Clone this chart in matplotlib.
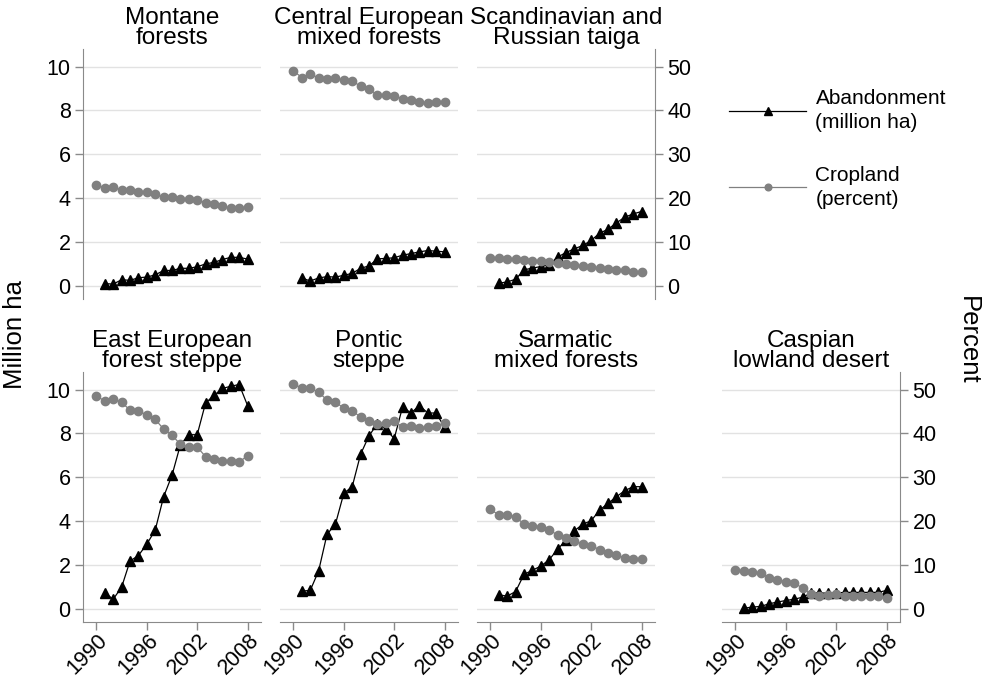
import matplotlib
matplotlib.use('Agg')
import matplotlib.pyplot as plt
from matplotlib.transforms import ScaledTranslation

plt.rcParams['font.family'] = ['Liberation Sans', 'DejaVu Sans']

years_cropland = [1990, 1991, 1992, 1993, 1994, 1995, 1996, 1997, 1998, 1999,
                  2000, 2001, 2002, 2003, 2004, 2005, 2006, 2007, 2008]
years_abandon = [1991, 1992, 1993, 1994, 1995, 1996, 1997, 1998, 1999,
                 2000, 2001, 2002, 2003, 2004, 2005, 2006, 2007, 2008]
x_ticks = [1990, 1996, 2002, 2008]
left_ticks = [0, 2, 4, 6, 8, 10]
right_ticks = [0, 10, 20, 30, 40, 50]

titles = ["Montane\nforests", "Central European\nmixed forests", "Scandinavian and\nRussian taiga",
          "East European\nforest steppe", "Pontic\nsteppe", "Sarmatic\nmixed forests",
          "Caspian\nlowland desert"]

# Abandonment (million ha)
abandon_montane = [0.10, 0.08, 0.28, 0.25, 0.37, 0.40, 0.50, 0.70, 0.70, 0.80, 0.80, 0.87, 1.00, 1.07, 1.20, 1.30, 1.30, 1.22]
abandon_central = [0.36, 0.22, 0.36, 0.42, 0.40, 0.48, 0.57, 0.80, 0.91, 1.23, 1.25, 1.28, 1.40, 1.47, 1.55, 1.61, 1.58, 1.55]
abandon_taiga = [0.12, 0.18, 0.30, 0.73, 0.81, 0.88, 0.96, 1.31, 1.52, 1.69, 1.84, 2.07, 2.40, 2.58, 2.87, 3.13, 3.28, 3.39]
abandon_east = [0.72, 0.44, 0.99, 2.18, 2.43, 2.95, 3.59, 5.11, 6.09, 7.48, 7.94, 7.94, 9.39, 9.73, 10.05, 10.15, 10.23, 9.27]
abandon_pontic = [0.81, 0.84, 1.73, 3.40, 3.86, 5.27, 5.57, 7.05, 7.89, 8.44, 8.20, 7.76, 9.21, 8.93, 9.27, 8.93, 8.93, 8.27]
abandon_sarmatic = [0.64, 0.58, 0.79, 1.57, 1.76, 1.95, 2.24, 2.72, 3.13, 3.56, 3.86, 4.02, 4.50, 4.81, 5.11, 5.39, 5.57, 5.57]
abandon_caspian = [0.03, 0.08, 0.11, 0.23, 0.31, 0.38, 0.44, 0.53, 0.72, 0.72, 0.72, 0.72, 0.75, 0.75, 0.75, 0.75, 0.75, 0.84]

# Cropland (percent)
crop_montane = [23.0, 22.4, 22.6, 21.8, 21.9, 21.5, 21.4, 20.9, 20.2, 20.2, 19.9, 19.7, 19.5, 19.0, 18.7, 18.1, 17.7, 17.7, 17.9]
crop_central = [49.0, 47.5, 48.3, 47.4, 47.1, 47.3, 46.9, 46.6, 45.6, 44.9, 43.5, 43.4, 43.3, 42.7, 42.3, 42.0, 41.7, 41.9, 42.0]
crop_taiga = [6.3, 6.3, 6.2, 6.1, 5.8, 5.7, 5.6, 5.4, 5.2, 5.0, 4.7, 4.5, 4.2, 4.0, 3.9, 3.6, 3.5, 3.2, 3.1]
crop_east = [48.5, 47.4, 47.8, 47.1, 45.3, 45.0, 44.3, 43.2, 41.0, 39.6, 37.5, 36.9, 36.9, 34.7, 34.2, 33.8, 33.8, 33.5, 34.9]
crop_pontic = [51.2, 50.4, 50.3, 49.4, 47.6, 47.1, 45.8, 45.2, 43.7, 42.8, 42.2, 42.4, 42.9, 41.4, 41.6, 41.2, 41.5, 41.6, 42.4]
crop_sarmatic = [22.7, 21.4, 21.5, 21.0, 19.3, 19.0, 18.7, 17.9, 16.9, 16.1, 15.4, 14.8, 14.4, 13.5, 12.8, 12.2, 11.7, 11.3, 11.3]
crop_caspian = [8.8, 8.7, 8.4, 8.2, 7.1, 6.6, 6.2, 5.8, 4.8, 3.3, 3.0, 3.2, 3.3, 2.9, 2.9, 2.9, 2.9, 3.0, 2.4]

abandon = [abandon_montane, abandon_central, abandon_taiga, abandon_east,
           abandon_pontic, abandon_sarmatic, abandon_caspian]
cropland = [crop_montane, crop_central, crop_taiga, crop_east,
            crop_pontic, crop_sarmatic, crop_caspian]
# (column, row) of each panel
cells = [(0, 0), (1, 0), (2, 0), (0, 1), (1, 1), (2, 1), (3, 1)]

W, H = 985, 679
fig = plt.figure(figsize=(W / 100, H / 100), dpi=100)

col_left = [83, 280, 477, 722]
col_w = 178
row_top = [49, 372]
row_h = 250

GRAY = '#808080'
AXC = '#8a8a8a'
GRID = '#e2e2e2'
TICK_FS = 15.5
label_shift = ScaledTranslation(8 / 100, 0, fig.dpi_scale_trans)

handles = None
for i, (c, r) in enumerate(cells):
    l = col_left[c] / W
    b = 1 - (row_top[r] + row_h) / H
    ax = fig.add_axes([l, b, col_w / W, row_h / H])
    ax.set_xlim(1988.4, 2009.6)
    ax.set_ylim(-0.6, 10.8)
    la, = ax.plot(years_abandon, abandon[i], color='black', lw=0.9, marker='^', ms=6.5,
                  mec='black', mfc='black')

    ax2 = ax.twinx()
    ax2.set_ylim(-3, 54)
    lc, = ax2.plot(years_cropland, cropland[i], color=GRAY, lw=0.9, marker='o', ms=6,
                   mec=GRAY, mfc=GRAY)
    if handles is None:
        handles = [la, lc]

    # left (million ha) axis
    ax.set_yticks(left_ticks)
    ax.yaxis.grid(True, color=GRID, lw=1.0)
    ax.set_axisbelow(True)
    for s in ax.spines.values():
        s.set_visible(False)
    show_left = (c == 0)
    ax.tick_params(axis='y', left=show_left, labelleft=show_left, right=False,
                   labelright=False, length=6, color=AXC, width=1.0,
                   labelsize=TICK_FS, pad=3)
    if show_left:
        ax.spines['left'].set_visible(True)
        ax.spines['left'].set_color(AXC)
    if r == 1:
        ax.spines['bottom'].set_visible(True)
        ax.spines['bottom'].set_color(AXC)
        ax.set_xticks(x_ticks)
        ax.set_xticklabels([str(t) for t in x_ticks], rotation=45, ha='right',
                           va='center', rotation_mode='anchor')
        ax.tick_params(axis='x', length=6, color=AXC, width=1.0, labelsize=TICK_FS, pad=5)
        for lab in ax.get_xticklabels():
            lab.set_transform(lab.get_transform() + label_shift)
    else:
        ax.set_xticks([])

    # right (percent) axis
    ax2.set_yticks(right_ticks)
    for s in ax2.spines.values():
        s.set_visible(False)
    show_right = (i == 2 or i == 6)
    ax2.tick_params(axis='y', right=show_right, labelright=show_right, left=False,
                    labelleft=False, length=6, color=AXC, width=1.0,
                    labelsize=TICK_FS, pad=3)
    if show_right:
        ax2.spines['right'].set_visible(True)
        ax2.spines['right'].set_color(AXC)

    ax.annotate(titles[i], xy=(0.5, 1.0), xycoords='axes fraction', xytext=(0, 0),
                textcoords='offset points', ha='center', va='bottom', fontsize=17.5,
                linespacing=0.9)

fig.text(15 / W, 1 - 335 / H, 'Million ha', rotation=90, ha='center', va='center', fontsize=18.5)
fig.text(968 / W, 1 - 340 / H, 'Percent', rotation=-90, ha='center', va='center', fontsize=18.5)

leg = fig.legend(handles=handles, labels=['Abandonment\n(million ha)', 'Cropland\n(percent)'],
                 loc='upper left', bbox_to_anchor=(729 / W, 1 - 89 / H), frameon=False,
                 fontsize=15, handlelength=3.7, handletextpad=0.45, labelspacing=1.6,
                 borderpad=0, borderaxespad=0, markerscale=0.8)
for t in leg.get_texts():
    t.set_linespacing(1.35)

fig.savefig('out.png', dpi=100)
